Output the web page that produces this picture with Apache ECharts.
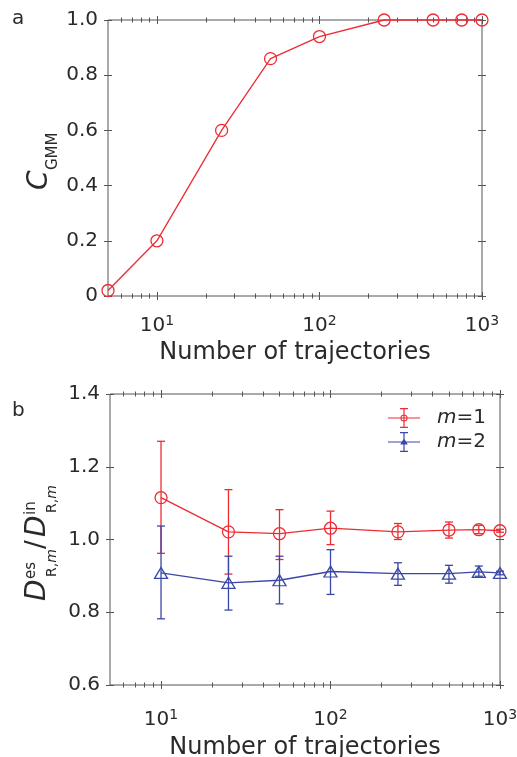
<!DOCTYPE html>
<html>
<head>
<meta charset="utf-8">
<script src="https://cdn.jsdelivr.net/npm/echarts@6/dist/echarts.min.js"></script>
<style>
  html, body { margin: 0; padding: 0; background: #fff; }
  #chart { width: 517px; height: 757px; }
</style>
</head>
<body>
<div id="chart"></div>
<script>
// panel a
var xTop = [5, 10, 25, 50, 100, 250, 500, 750, 1000];
var cGmm = [0.02, 0.20, 0.60, 0.86, 0.94, 1.0, 1.0, 1.0, 1.0];

// panel b
var xBottom = [10, 25, 50, 100, 250, 500, 750, 1000];
var m1Mean = [1.115, 1.021, 1.016, 1.031, 1.021, 1.026, 1.027, 1.024];
var m1Low  = [0.962, 0.905, 0.945, 0.986, 1.000, 1.004, 1.016, 1.020];
var m1High = [1.270, 1.137, 1.082, 1.078, 1.044, 1.048, 1.039, 1.028];
var m2Mean = [0.908, 0.881, 0.888, 0.912, 0.906, 0.906, 0.911, 0.908];
var m2Low  = [0.782, 0.806, 0.823, 0.849, 0.874, 0.880, 0.899, 0.903];
var m2High = [1.037, 0.954, 0.954, 0.972, 0.936, 0.929, 0.927, 0.913];

// ticks
var majorTicks = [10, 100, 1000];
var minorTicks = [6, 7, 8, 9, 20, 30, 40, 50, 60, 70, 80, 90, 200, 300, 400, 500, 600, 700, 800, 900];

var RED = '#ee2b33';
var BLUE = '#3a47a6';
var AXIS = '#555';
var TXT = '#2a2a2a';
var FONT = '"DejaVu Sans", Verdana, sans-serif';

function xTickAxis(grid, position, values, len, label) {
  var ax = {
    type: 'log', logBase: 10, gridIndex: grid, position: position,
    min: 5, max: 1000, offset: -len / 2,
    axisLine: { show: false, onZero: false },
    splitLine: { show: false },
    axisTick: { show: true, length: len, customValues: values, lineStyle: { color: AXIS, width: 1 } },
    axisLabel: { show: false }
  };
  if (label) {
    ax.axisLabel = {
      show: true, customValues: majorTicks, margin: label.margin,
      formatter: function (v) { return '{b|10}{p|' + Math.round(Math.log10(v)) + '}'; },
      rich: {
        b: { fontSize: 20, color: TXT, fontFamily: FONT, lineHeight: 22 },
        p: { fontSize: 14, color: TXT, fontFamily: FONT, lineHeight: 14, padding: [0, 0, 10, 0] }
      }
    };
    ax.name = 'Number of trajectories';
    ax.nameLocation = 'middle';
    ax.nameGap = label.nameGap;
    ax.nameTextStyle = { fontSize: 24, color: TXT, fontFamily: FONT };
  }
  return ax;
}

function yAxisOf(grid, position, min, max, labels) {
  return {
    type: 'value', gridIndex: grid, position: position,
    min: min, max: max, interval: 0.2, offset: -4,
    axisLine: { show: false, onZero: false },
    splitLine: { show: false },
    axisTick: { show: true, length: 8, lineStyle: { color: AXIS, width: 1 } },
    axisLabel: labels ? {
      show: true, margin: 14, fontSize: 20, color: TXT, fontFamily: FONT,
      formatter: function (v) { return Math.abs(v) < 1e-9 ? '0' : v.toFixed(1); }
    } : { show: false }
  };
}

function errorBar(color) {
  return function (params, api) {
    var x = api.value(0);
    var lo = api.coord([x, api.value(1)]);
    var hi = api.coord([x, api.value(2)]);
    var w = 4;
    var st = { stroke: color, lineWidth: 1.3, fill: null };
    return {
      type: 'group',
      children: [
        { type: 'line', shape: { x1: lo[0], y1: lo[1], x2: hi[0], y2: hi[1] }, style: st },
        { type: 'line', shape: { x1: lo[0] - w, y1: lo[1], x2: lo[0] + w, y2: lo[1] }, style: st },
        { type: 'line', shape: { x1: hi[0] - w, y1: hi[1], x2: hi[0] + w, y2: hi[1] }, style: st }
      ]
    };
  };
}

function pairs(xs, ys) { return xs.map(function (x, i) { return [x, ys[i]]; }); }
function triples(xs, a, b) { return xs.map(function (x, i) { return [x, a[i], b[i]]; }); }

var barPath = 'M0 9.4H32V10.6H0Z M15.4 0.6H16.6V19.4H15.4Z M12 0H20V1.2H12Z M12 18.8H20V20H12Z ';
var iconM1 = 'path://' + barPath + 'M19.6 10A3.6 3.6 0 1 1 12.4 10A3.6 3.6 0 1 1 19.6 10Z M18.5 10A2.5 2.5 0 1 0 13.5 10A2.5 2.5 0 1 0 18.5 10Z';
var iconM2 = 'path://' + barPath + 'M16 6.2L19.8 12.6H12.2Z';

function txt(x, y, text, font, extra) {
  var s = { text: text, font: font, fill: TXT, align: 'left', verticalAlign: 'middle' };
  if (extra) for (var k in extra) s[k] = extra[k];
  return { type: 'text', x: x, y: y, style: s };
}
var subRm = { rich: {
  n: { fontSize: 14, fontFamily: FONT, fill: TXT },
  i: { fontSize: 14, fontFamily: FONT, fontStyle: 'italic', fill: TXT }
} };

var chart = echarts.init(document.getElementById('chart'));
chart.setOption({
  animation: false,
  backgroundColor: '#fff',
  grid: [
    { left: 108, top: 20, width: 374, height: 276, outerBoundsMode: 'none', show: true, borderColor: AXIS, borderWidth: 1, backgroundColor: 'transparent' },
    { left: 110, top: 394, width: 390, height: 291, outerBoundsMode: 'none', show: true, borderColor: AXIS, borderWidth: 1, backgroundColor: 'transparent' }
  ],
  xAxis: [
    xTickAxis(0, 'bottom', majorTicks, 8, { margin: 23, nameGap: 49 }),
    xTickAxis(0, 'bottom', minorTicks, 5),
    xTickAxis(0, 'top', majorTicks, 8),
    xTickAxis(0, 'top', minorTicks, 5),
    xTickAxis(1, 'bottom', majorTicks, 8, { margin: 28, nameGap: 55 }),
    xTickAxis(1, 'bottom', minorTicks, 5),
    xTickAxis(1, 'top', majorTicks, 8),
    xTickAxis(1, 'top', minorTicks, 5)
  ],
  yAxis: [
    yAxisOf(0, 'left', 0, 1, true),
    yAxisOf(0, 'right', 0, 1, false),
    yAxisOf(1, 'left', 0.6, 1.4, true),
    yAxisOf(1, 'right', 0.6, 1.4, false)
  ],
  legend: {
    orient: 'vertical', left: 383, top: 403, itemGap: 4,
    itemWidth: 32, itemHeight: 20,
    data: [
      { name: 'm=1', icon: iconM1, itemStyle: { color: RED, borderWidth: 0 } },
      { name: 'm=2', icon: iconM2, itemStyle: { color: BLUE, borderWidth: 0 } }
    ],
    formatter: function (name) { return '{i|m}' + name.slice(1); },
    textStyle: {
      fontSize: 20, color: TXT, fontFamily: FONT, padding: [0, 0, 0, 12],
      rich: { i: { fontSize: 20, color: TXT, fontFamily: FONT, fontStyle: 'italic' } }
    }
  },
  series: [
    {
      name: 'C', type: 'line', xAxisIndex: 0, yAxisIndex: 0,
      data: pairs(xTop, cGmm), symbol: 'circle', symbolSize: 12, clip: false,
      lineStyle: { color: RED, width: 1.3 },
      itemStyle: { color: 'rgba(0,0,0,0)', borderColor: RED, borderWidth: 1.3 }
    },
    {
      name: 'm=1 err', type: 'custom', xAxisIndex: 4, yAxisIndex: 2, silent: true,
      data: triples(xBottom, m1Low, m1High), renderItem: errorBar(RED),
      encode: { x: 0, y: [1, 2] }
    },
    {
      name: 'm=2 err', type: 'custom', xAxisIndex: 4, yAxisIndex: 2, silent: true,
      data: triples(xBottom, m2Low, m2High), renderItem: errorBar(BLUE),
      encode: { x: 0, y: [1, 2] }
    },
    {
      name: 'm=1', type: 'line', xAxisIndex: 4, yAxisIndex: 2,
      data: pairs(xBottom, m1Mean), symbol: 'circle', symbolSize: 12, clip: false,
      lineStyle: { color: RED, width: 1.3 },
      itemStyle: { color: 'rgba(0,0,0,0)', borderColor: RED, borderWidth: 1.3 }
    },
    {
      name: 'm=2', type: 'line', xAxisIndex: 4, yAxisIndex: 2,
      data: pairs(xBottom, m2Mean), symbol: 'triangle', symbolSize: [13, 11], clip: false,
      lineStyle: { color: BLUE, width: 1.3 },
      itemStyle: { color: 'rgba(0,0,0,0)', borderColor: BLUE, borderWidth: 1.3 }
    }
  ],
  graphic: [
    txt(12, 19, 'a', '20px ' + FONT),
    txt(12, 411, 'b', '20px ' + FONT),
    // C_GMM
    {
      type: 'group', x: 40, y: 190, rotation: Math.PI / 2,
      children: [
        txt(0, 0, 'C', 'italic 28px ' + FONT),
        txt(20, 13, 'GMM', '15px ' + FONT)
      ]
    },
    // D^es_{R,m} / D^in_{R,m}
    {
      type: 'group', x: 37.5, y: 601, rotation: Math.PI / 2,
      children: [
        txt(0, 0, 'D', 'italic 28px ' + FONT),
        txt(22, -6, 'es', '15px ' + FONT),
        txt(24, 15, '{n|R,}{i|m}', '14px ' + FONT, subRm),
        txt(52, 0, '/', '26px ' + FONT),
        txt(64, 0, 'D', 'italic 28px ' + FONT),
        txt(86, -6, 'in', '15px ' + FONT),
        txt(88, 15, '{n|R,}{i|m}', '14px ' + FONT, subRm)
      ]
    }
  ]
});
</script>
</body>
</html>
